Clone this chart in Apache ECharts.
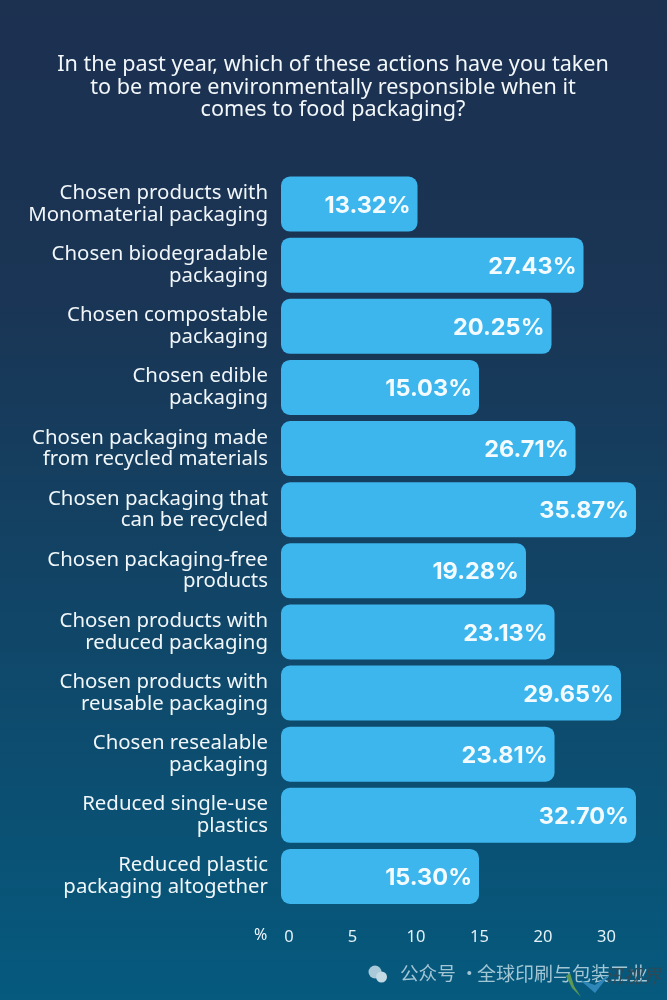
<!DOCTYPE html>
<html><head><meta charset="utf-8">
<style>html,body{margin:0;padding:0;width:667px;height:1000px;overflow:hidden}#c{width:667px;height:1000px}</style>
<script src="https://cdn.jsdelivr.net/npm/echarts@6/dist/echarts.min.js"></script></head>
<body><div id="c"></div>
<script>
const titleText = "In the past year, which of these actions have you taken\nto be more environmentally responsible when it\ncomes to food packaging?";
const categories = [
 "Chosen products with\nMonomaterial packaging","Chosen biodegradable\npackaging","Chosen compostable\npackaging","Chosen edible\npackaging",
 "Chosen packaging made\nfrom recycled materials","Chosen packaging that\ncan be recycled","Chosen packaging-free\nproducts","Chosen products with\nreduced packaging",
 "Chosen products with\nreusable packaging","Chosen resealable\npackaging","Reduced single-use\nplastics","Reduced plastic\npackaging altogether"];
const percentLabels = ["13.32%","27.43%","20.25%","15.03%","26.71%","35.87%","19.28%","23.13%","29.65%","23.81%","32.70%","15.30%"];
// bar lengths as drawn, read against the picture's evenly spaced axis
const drawnLengths = [10.75,23.82,21.3,15.59,23.19,27.95,19.29,21.54,26.77,21.54,27.95,15.59];
const tickLabels = ["0","5","10","15","20","30"];
const unitLabel = "%";
const watermarkHead = "公众号 ·";
const watermarkTail = "全球印刷与包装工业";
const logoText = "讯视界";

const font = "'Noto Sans'";
const chart = echarts.init(document.getElementById('c'), null, {renderer:'canvas'});
chart.setOption({
  animation:false,
  backgroundColor:{type:'linear',x:0,y:0,x2:0,y2:1,colorStops:[{offset:0,color:'#1c3050'},{offset:0.3,color:'#1a3555'},{offset:1,color:'#055a7e'}]},
  title:{text:titleText,left:328,top:49,textAlign:'center',textStyle:{color:'#f2f7fa',fontFamily:font,fontWeight:400,fontSize:21.6,lineHeight:22.5}},
  grid:{left:281,right:5,top:173.5,height:733.5,containLabel:false},
  xAxis:{type:'value',min:0,max:30,interval:5,
    axisLine:{show:false},axisTick:{show:false},splitLine:{show:false},
    axisLabel:{color:'#e4f1f7',fontFamily:font,fontSize:16.5,margin:22,hideOverlap:false,
      formatter:(v,i)=>tickLabels[i]||'',padding:[0,0,0,16],showMaxLabel:false}},
  yAxis:{type:'category',inverse:true,data:categories,
    axisLine:{show:false},axisTick:{show:false},
    axisLabel:{color:'#f0f6f9',fontFamily:font,fontSize:20.4,lineHeight:21.6,align:'right',margin:13,padding:[9,0,0,0]}},
  series:[{type:'bar',barWidth:55,
    data:drawnLengths.map((v,i)=>({value:v,pct:percentLabels[i]})),
    itemStyle:{color:'#3db6ee',borderRadius:9},
    label:{show:true,position:'insideRight',distance:7,offset:[0,1.5],color:'#f4fbff',fontFamily:"Inter",fontWeight:700,fontSize:23.5,
      formatter:p=>p.data.pct}}],
  graphic:[
    {type:'text',x:254,y:927,style:{text:unitLabel,fill:'#eef6fa',font:"16px 'Noto Sans'"}},
    {type:'circle',shape:{cx:375,cy:972,r:6.5},style:{fill:'#a9c9d8'}},
    {type:'circle',shape:{cx:381.5,cy:977,r:5.5},style:{fill:'#c3dae4'}},
    {type:'text',x:400,y:964,style:{text:watermarkHead,fill:'#a3c6d5',font:"18.6px 'Noto Sans CJK SC'"}},
    {type:'text',x:477,y:964,style:{text:watermarkTail,fill:'#a3c6d5',font:"19px 'Noto Sans CJK SC'"}},
    {type:'polygon',shape:{points:[[566,976],[572,988],[581,997],[574,986],[570,973]]},style:{fill:'#5e9a55'}},
    {type:'polygon',shape:{points:[[580,980],[595,993],[610,974],[595,985]]},style:{fill:'#2f86b8'}},
    {type:'text',x:604,y:966,style:{text:logoText,fill:'#2c4a58',font:"italic 19px 'Noto Sans CJK SC'"}}
  ]
});
</script></body></html>
